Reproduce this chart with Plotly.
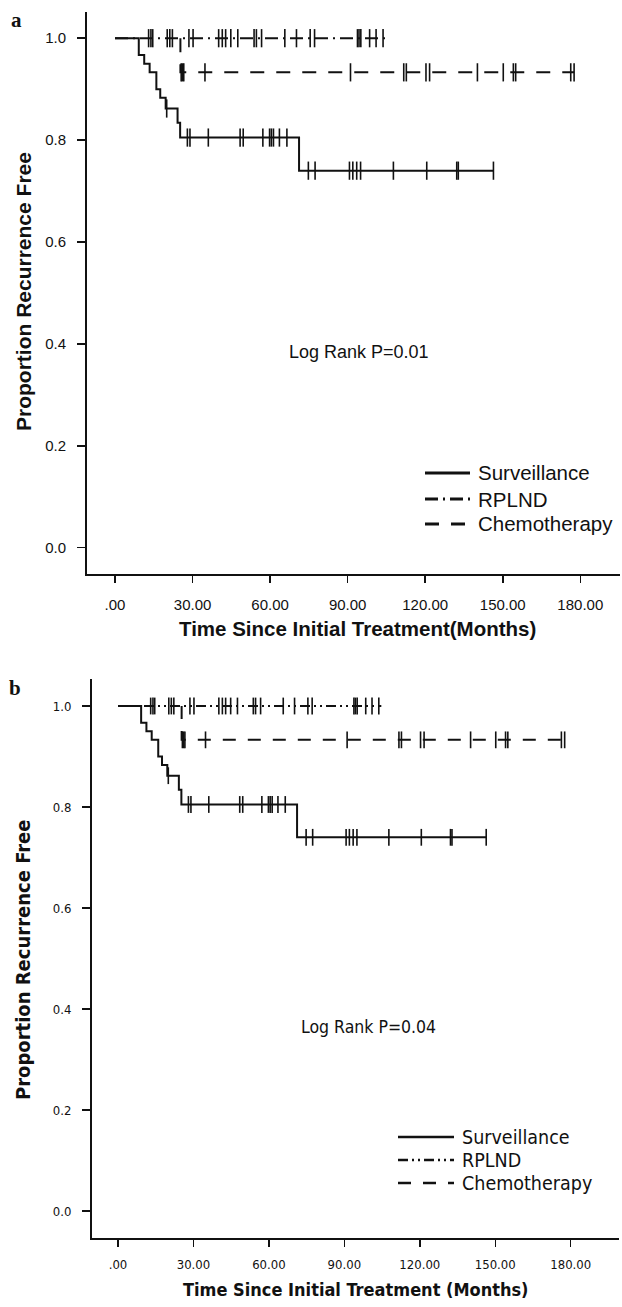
import plotly.graph_objects as go

# ---------------- data (months, proportion recurrence free) ----------------
x_tick_vals = [0, 30, 60, 90, 120, 150, 180]
x_tick_text = [".00", "30.00", "60.00", "90.00", "120.00", "150.00", "180.00"]
y_tick_vals = [0.0, 0.2, 0.4, 0.6, 0.8, 1.0]
y_tick_text = ["0.0", "0.2", "0.4", "0.6", "0.8", "1.0"]

surv_times = [0, 9.2, 11.3, 13.4, 16.0, 17.5, 19.6, 24.2, 25.2, 71.2, 146.4]
surv_vals = [1.0, 0.967, 0.95, 0.933, 0.9, 0.883, 0.862, 0.834, 0.805, 0.74, 0.74]
surv_censor_t = [20.0, 28.0, 29.0, 36.1, 48.4, 49.6, 57.2, 59.8, 60.5, 61.3, 63.6, 66.5,
                 74.8, 77.4, 90.7, 92.0, 93.5, 95.0, 107.7, 120.6, 132.2, 132.8, 146.4]

rplnd_times = [0, 104.7]
rplnd_vals = [1.0, 1.0]
rplnd_censor_t = [13.0, 13.9, 14.6, 20.2, 21.2, 22.2, 28.6, 30.2, 40.1, 41.5, 42.8, 44.8,
                  47.5, 53.8, 54.7, 56.7, 65.7, 70.2, 75.5, 77.2, 93.8, 94.4, 95.1, 98.5,
                  101.0, 103.7]

chemo_times = [25.3, 25.3, 177.6]
chemo_vals = [1.0, 0.933, 0.933]
chemo_censor_t = [25.6, 26.1, 26.6, 34.8, 91.1, 111.7, 112.7, 120.3, 121.7, 140.2,
                  150.2, 154.1, 155.0, 176.3, 177.6]

group_names = ["Surveillance", "RPLND", "Chemotherapy"]


def step_value(times, vals, t):
    v = vals[0]
    for ti, vi in zip(times, vals):
        if ti <= t:
            v = vi
    return v


W, H = 622, 1307
INK = "#111111"
FONT_B = "DejaVu Sans Condensed, DejaVu Sans"

panels = [
    dict(xa="x", ya="y", xname="xaxis", yname="yaxis",
         xpix=(87, 620), ypix=(12, 574), x0px=115, xscale=2.585, y0px=547.7, yscale=509.5,
         font="Liberation Sans", tick_size=15, xtitle_size=20.5, ytitle_size=21,
         leg_size=20.5, lr_size=18, tick_standoff_x=9, mark_size=13,
         dash_rplnd="13px,5px,2px,5px", dash_chemo="14px,12px",
         xtitle="Time Since Initial Treatment(Months)", lr_text="Log Rank P=0.01",
         label="a", label_pos=(16, 20), ytitle_pos=(23, 292), xtitle_pos=(357, 628),
         lr_pos=(359, 352), leg_rows=(473, 499, 524), leg_line=(425, 470), leg_text=476,
         leg_w=3),
    dict(xa="x2", ya="y2", xname="xaxis2", yname="yaxis2",
         xpix=(92, 619), ypix=(679, 1238), x0px=118, xscale=2.515, y0px=1211, yscale=505,
         font=FONT_B, tick_size=13, xtitle_size=18, ytitle_size=20,
         leg_size=19.5, lr_size=17.5, tick_standoff_x=6, mark_size=12,
         dash_rplnd="10px,4px,2px,4px,2px,4px", dash_chemo="13px,12px",
         xtitle="Time Since Initial Treatment (Months)", lr_text="Log Rank P=0.04",
         label="b", label_pos=(15, 688), ytitle_pos=(23, 960), xtitle_pos=(356, 1289),
         lr_pos=(368, 1027), leg_rows=(1137, 1160, 1183), leg_line=(398, 454), leg_text=460,
         leg_w=2.5),
]

fig = go.Figure()
shapes = []
annotations = []

for p in panels:
    xa, ya = p["xa"], p["ya"]
    fig.add_trace(go.Scatter(x=surv_times, y=surv_vals, mode="lines", line_shape="hv",
                             line=dict(color=INK, width=2), xaxis=xa, yaxis=ya,
                             showlegend=False, hoverinfo="skip"))
    fig.add_trace(go.Scatter(x=rplnd_times, y=rplnd_vals, mode="lines", line_shape="hv",
                             line=dict(color=INK, width=2, dash=p["dash_rplnd"]),
                             xaxis=xa, yaxis=ya, showlegend=False, hoverinfo="skip"))
    fig.add_trace(go.Scatter(x=chemo_times, y=chemo_vals, mode="lines", line_shape="hv",
                             line=dict(color=INK, width=2, dash=p["dash_chemo"]),
                             xaxis=xa, yaxis=ya, showlegend=False, hoverinfo="skip"))
    for times, vals, cts in [(surv_times, surv_vals, surv_censor_t),
                             (rplnd_times, rplnd_vals, rplnd_censor_t),
                             (chemo_times, chemo_vals, chemo_censor_t)]:
        fig.add_trace(go.Scatter(x=cts, y=[step_value(times, vals, t) for t in cts],
                                 mode="markers",
                                 marker=dict(symbol="line-ns", size=p["mark_size"],
                                             line=dict(color=INK, width=1.6)),
                                 xaxis=xa, yaxis=ya, showlegend=False, hoverinfo="skip"))

    xr = [(p["xpix"][0] - p["x0px"]) / p["xscale"], (p["xpix"][1] - p["x0px"]) / p["xscale"]]
    yr = [(p["y0px"] - p["ypix"][1]) / p["yscale"], (p["y0px"] - p["ypix"][0]) / p["yscale"]]
    axis_common = dict(showline=True, linecolor=INK, linewidth=2, ticks="outside",
                       tickcolor=INK, tickwidth=1.5, showgrid=False, zeroline=False,
                       tickfont=dict(family=p["font"], size=p["tick_size"], color=INK),
                       fixedrange=True)
    fig.layout[p["xname"]] = dict(
        domain=[p["xpix"][0] / W, p["xpix"][1] / W], range=xr, anchor=ya,
        tickvals=x_tick_vals, ticktext=x_tick_text, ticklen=7,
        ticklabelstandoff=p["tick_standoff_x"], **axis_common)
    fig.layout[p["yname"]] = dict(
        domain=[1 - p["ypix"][1] / H, 1 - p["ypix"][0] / H], range=yr, anchor=xa,
        tickvals=y_tick_vals, ticktext=y_tick_text, ticklen=8, ticklabelstandoff=8,
        **axis_common)

    def px(xp, yp):
        return xp / W, 1 - yp / H

    x_, y_ = px(*p["label_pos"])
    annotations.append(dict(text=p["label"], x=x_, y=y_, xref="paper", yref="paper",
                            showarrow=False, xanchor="center", yanchor="middle",
                            font=dict(family="Liberation Serif", size=21, color=INK,
                                      weight="bold")))
    x_, y_ = px(*p["ytitle_pos"])
    annotations.append(dict(text="Proportion Recurrence Free", x=x_, y=y_, xref="paper",
                            yref="paper", showarrow=False, textangle=-90,
                            xanchor="center", yanchor="middle",
                            font=dict(family=p["font"], size=p["ytitle_size"], color=INK,
                                      weight="bold")))
    x_, y_ = px(*p["xtitle_pos"])
    annotations.append(dict(text=p["xtitle"], x=x_, y=y_, xref="paper", yref="paper",
                            showarrow=False, xanchor="center", yanchor="middle",
                            font=dict(family=p["font"], size=p["xtitle_size"], color=INK,
                                      weight="bold")))
    x_, y_ = px(*p["lr_pos"])
    annotations.append(dict(text=p["lr_text"], x=x_, y=y_, xref="paper", yref="paper",
                            showarrow=False, xanchor="center", yanchor="middle",
                            font=dict(family=p["font"], size=p["lr_size"], color=INK)))
    dashes = ["solid", p["dash_rplnd"], p["dash_chemo"]]
    for name, row, dash in zip(group_names, p["leg_rows"], dashes):
        x0, yy = px(p["leg_line"][0], row)
        x1, _ = px(p["leg_line"][1], row)
        shapes.append(dict(type="line", xref="paper", yref="paper", x0=x0, x1=x1,
                           y0=yy, y1=yy, line=dict(color=INK, width=p["leg_w"], dash=dash)))
        xt, _ = px(p["leg_text"], row)
        annotations.append(dict(text=name, x=xt, y=yy, xref="paper", yref="paper",
                                showarrow=False, xanchor="left", yanchor="middle",
                                font=dict(family=p["font"], size=p["leg_size"], color=INK)))

fig.update_layout(width=W, height=H, margin=dict(l=0, r=0, t=0, b=0),
                  paper_bgcolor="white", plot_bgcolor="white", showlegend=False,
                  hovermode=False, shapes=shapes, annotations=annotations)

# remove the browser's default 8px body margin so the 622x1307 figure fits the window
fig.write_html("out.html",
               config={"displayModeBar": False, "staticPlot": True},
               post_script="document.body.style.margin='0px';"
                           "document.body.style.overflow='hidden';")
